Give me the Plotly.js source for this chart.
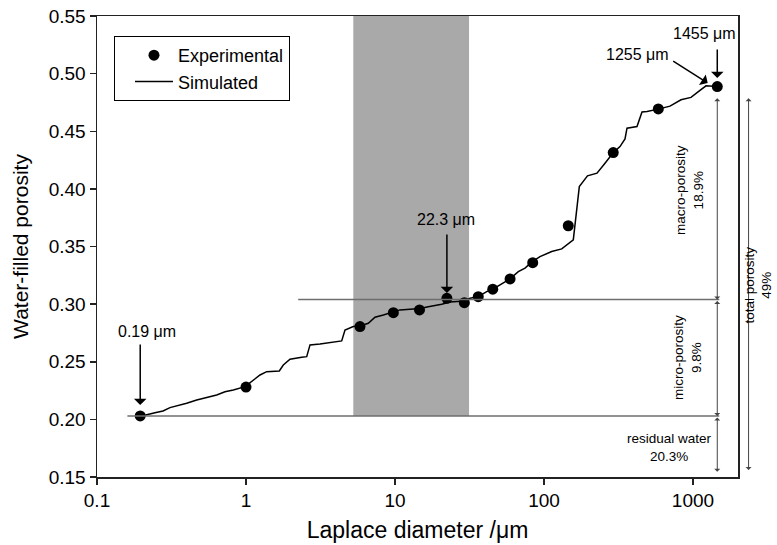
<!DOCTYPE html>
<html>
<head>
<meta charset="utf-8">
<script src="https://cdn.plot.ly/plotly-3.0.1.min.js"></script>
<style>html,body{margin:0;padding:0;background:#fff;}#chart{width:777px;height:545px;}</style>
</head>
<body>
<div id="chart"></div>
<script>
// Experimental points
const expX = [0.195, 1.0, 5.82, 9.75, 14.6, 22.3, 29.2, 36.2, 45.3, 59.2, 84, 145.5, 291.5, 585, 1455];
const expY = [0.203, 0.228, 0.2805, 0.2926, 0.295, 0.305, 0.3013, 0.3065, 0.313, 0.3219, 0.336, 0.368, 0.4315, 0.4694, 0.4888];

// Simulated curve
const simX = [0.1944, 0.2123, 0.245, 0.2773, 0.309, 0.3512, 0.3998, 0.467, 0.5446, 0.6357, 0.7228, 0.822, 0.9846,
  1.12, 1.242, 1.377, 1.673, 1.78, 1.974, 2.365, 2.555, 2.689, 3.138, 4.388, 4.617, 5.25, 5.82, 6.62, 7.34, 8.35,
  9.7, 10.8, 13.27, 14.72, 16.73, 20.58, 23.4, 29.2, 31.87, 36.2, 41.25, 45.26, 50.67, 59.16, 67.22, 74.58, 83.0,
  94.0, 112.6, 131.5, 157.3, 172.6, 195.8, 226.8, 256.7, 291.8, 323.6, 349.7, 360.6, 420.9, 454.7, 491.3, 584.8,
  700.9, 830.9, 969.6, 1114, 1223, 1455];
const simY = [0.203, 0.2038, 0.2058, 0.2073, 0.2102, 0.2119, 0.214, 0.2168, 0.2192, 0.2212, 0.224, 0.2255, 0.2284,
  0.2342, 0.2385, 0.2414, 0.242, 0.2472, 0.2522, 0.2539, 0.2544, 0.2646, 0.2655, 0.2681, 0.2776, 0.2805, 0.281, 0.2834,
  0.2886, 0.2906, 0.2932, 0.295, 0.2958, 0.2963, 0.2978, 0.2999, 0.3019, 0.3028, 0.3051, 0.3065, 0.3109, 0.3129,
  0.3167, 0.3219, 0.3282, 0.3312, 0.3366, 0.3412, 0.3456, 0.3479, 0.3557, 0.402, 0.4113, 0.4136, 0.4223, 0.4315,
  0.4367, 0.4434, 0.4527, 0.4541, 0.4668, 0.4671, 0.4692, 0.4718, 0.4773, 0.4794, 0.4855, 0.4894, 0.4888];

// Axis ticks
const xTickVals = [0.1, 1, 10, 100, 1000];
const xTickText = ['0.1', '1', '10', '100', '1000'];

// Reference levels and band
const residualLevel = 0.203;
const microLevel = 0.304;
const macroTop = 0.480;
const bandX = [5.25, 31.4];

const FONT = 'Arial, "Liberation Sans", sans-serif';
const lg = Math.log10;

const traces = [
  {x: simX, y: simY, type: 'scatter', mode: 'lines', name: 'Simulated',
   line: {color: '#000', width: 1.5}, legendrank: 2},
  {x: expX, y: expY, type: 'scatter', mode: 'markers', name: 'Experimental',
   marker: {color: '#000', size: 11}, legendrank: 1}
];

const gray = '#6e6e6e';
const shapes = [
  {type: 'rect', xref: 'x', yref: 'y', x0: bandX[0], x1: bandX[1], y0: residualLevel, y1: 0.55,
   fillcolor: '#a9a9a9', line: {width: 0}, layer: 'below'},
  {type: 'line', xref: 'x', yref: 'y', x0: 0.16, x1: 1500, y0: residualLevel, y1: residualLevel,
   line: {color: gray, width: 1.5}},
  {type: 'line', xref: 'x', yref: 'y', x0: 2.24, x1: 1500, y0: microLevel, y1: microLevel,
   line: {color: gray, width: 1.5}}
];

const labelArrow = (xv, yv, ax, ay) => ({x: lg(xv), y: yv, xref: 'x', yref: 'y', text: '',
  showarrow: true, arrowhead: 1, arrowsize: 1.4, arrowwidth: 1.5, arrowcolor: '#000', ax: ax, ay: ay});
const measure = (y0, y1) => ({x: lg(1455), y: y0, xref: 'x', yref: 'y', axref: 'x', ayref: 'y',
  ax: lg(1455), ay: y1, text: '', showarrow: true, arrowhead: 1, startarrowhead: 1, arrowside: 'end+start',
  arrowsize: 1, arrowwidth: 1, arrowcolor: '#444', standoff: 0, startstandoff: 0});
const txt = (xl, yv, t, size, angle) => ({x: xl, y: yv, xref: 'x', yref: 'y', text: t, showarrow: false,
  font: {family: FONT, size: size, color: '#000'}, textangle: angle || 0});

const annotations = [
  txt(-0.664, 0.2761, '0.19 μm', 16),
  labelArrow(expX[0], 0.2125, 0, -62),
  txt(1.342, 0.3731, '22.3 μm', 16),
  labelArrow(22.3, 0.3097, 0, -60),
  txt(3.074, 0.5352, '1455 μm', 16),
  labelArrow(1455, 0.4961, 0, -30),
  txt(2.6275, 0.5163, '1255 μm', 16),
  labelArrow(1255, 0.4918, -36, -23),
  measure(microLevel, macroTop),
  measure(residualLevel, microLevel),
  measure(0.1546, residualLevel),
  txt(-1 + (690 - 97) / 149, 0.15 + (477 - 190) / 1152, 'macro-porosity<br>18.9%', 13.5, -90),
  txt(-1 + (688 - 97) / 149, 0.15 + (477 - 358) / 1152, 'micro-porosity<br>9.8%', 13.5, -90),
  txt(-1 + (669 - 97) / 149, 0.15 + (477 - 448) / 1152, 'residual water<br>20.3%', 13.5, 0),
  {x: 1.0165, y: 0.156, xref: 'paper', yref: 'y', axref: 'pixel', ayref: 'y', ax: 0, ay: macroTop,
   text: '', showarrow: true, arrowhead: 1, startarrowhead: 1, arrowside: 'end+start', arrowsize: 1,
   arrowwidth: 1, arrowcolor: '#444', standoff: 0, startstandoff: 0},
  {x: 1.0, y: 0.15 + (477 - 285) / 1152, xref: 'paper', yref: 'y', xshift: 39, text: 'total porosity<br>49%',
   showarrow: false, textangle: -90, font: {family: FONT, size: 13.5, color: '#000'}}
];

const layout = {
  width: 777, height: 545,
  margin: {l: 97, r: 39, t: 16, b: 68},
  paper_bgcolor: '#fff', plot_bgcolor: '#fff',
  font: {family: FONT, color: '#000'},
  showlegend: true,
  legend: {x: 0.0265, y: 0.9566, xanchor: 'left', yanchor: 'top', bgcolor: '#fff', indentation: 15,
    bordercolor: '#000', borderwidth: 1, font: {family: FONT, size: 18, color: '#000'}, itemwidth: 38},
  xaxis: {type: 'log', range: [-1, 3.302], tickvals: xTickVals, ticktext: xTickText,
    ticks: 'outside', ticklen: 6, tickwidth: 1.5, tickcolor: '#222', showgrid: false, zeroline: false,
    showline: true, linecolor: '#222', linewidth: 1.5, mirror: true,
    tickfont: {family: FONT, size: 19, color: '#000'},
    title: {text: 'Laplace diameter /μm', font: {family: FONT, size: 23, color: '#000'}, standoff: 11}},
  yaxis: {range: [0.15, 0.55], dtick: 0.05, tick0: 0.15, tickformat: '.2f',
    ticks: 'outside', ticklen: 6, tickwidth: 1.5, tickcolor: '#222', showgrid: false, zeroline: false,
    showline: true, linecolor: '#222', linewidth: 1.5, mirror: true,
    tickfont: {family: FONT, size: 19, color: '#000'},
    title: {text: 'Water-filled porosity', font: {family: FONT, size: 21, color: '#000'}, standoff: 14}},
  shapes: shapes,
  annotations: annotations
};

Plotly.newPlot('chart', traces, layout, {displayModeBar: false, staticPlot: true});
</script>
</body>
</html>
